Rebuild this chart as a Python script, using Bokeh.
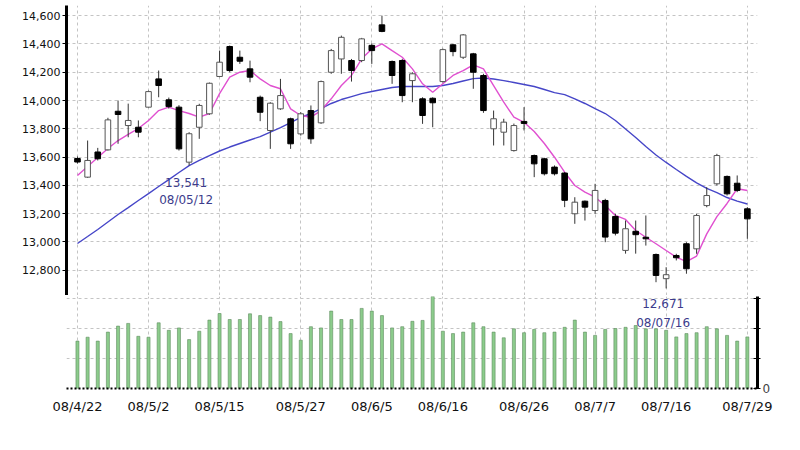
from bokeh.plotting import figure
from bokeh.layouts import column
from bokeh.models import (FixedTicker, NumeralTickFormatter, Range1d,
                          ColumnDataSource, Label)
from bokeh.embed import file_html
from bokeh.resources import INLINE

dates = ["08/04/22", "08/04/23", "08/04/24", "08/04/25", "08/04/28", "08/04/30",
         "08/05/01", "08/05/02", "08/05/07", "08/05/08", "08/05/09", "08/05/12",
         "08/05/13", "08/05/14", "08/05/15", "08/05/16", "08/05/19", "08/05/20",
         "08/05/21", "08/05/22", "08/05/23", "08/05/26", "08/05/27", "08/05/28",
         "08/05/29", "08/05/30", "08/06/02", "08/06/03", "08/06/04", "08/06/05",
         "08/06/06", "08/06/09", "08/06/10", "08/06/11", "08/06/12", "08/06/13",
         "08/06/16", "08/06/17", "08/06/18", "08/06/19", "08/06/20", "08/06/23",
         "08/06/24", "08/06/25", "08/06/26", "08/06/27", "08/06/30", "08/07/01",
         "08/07/02", "08/07/03", "08/07/04", "08/07/07", "08/07/08", "08/07/09",
         "08/07/10", "08/07/11", "08/07/14", "08/07/15", "08/07/16", "08/07/17",
         "08/07/18", "08/07/22", "08/07/23", "08/07/24", "08/07/25", "08/07/28",
         "08/07/29"]

open_ = [13590, 13458, 13636, 13651, 13924, 13823, 13811, 13953, 14153, 14005,
         13953, 13564, 13811, 13906, 14170, 14382, 14306, 14224, 14023, 13788,
         13941, 13871, 13764, 13929, 13842, 14200, 14294, 14283, 14283, 14390,
         14535, 14276, 14283, 14141, 14012, 14016, 14134, 14394, 14306, 14330,
         14177, 13800, 13776, 13646, 13852, 13611, 13588, 13529, 13487, 13199,
         13288, 13222, 13293, 13180, 12940, 13075, 13033, 12911, 12740, 12904,
         12987, 12951, 13257, 13411, 13463, 13415, 13234]
high = [13604, 13717, 13665, 13878, 14000, 13978, 13859, 14070, 14212, 14021,
        13967, 13776, 13977, 14127, 14353, 14389, 14353, 14282, 14035, 13988,
        14153, 13879, 13918, 13965, 14141, 14365, 14459, 14294, 14443, 14404,
        14600, 14283, 14294, 14200, 14023, 14023, 14367, 14400, 14470, 14337,
        14189, 13929, 13871, 13837, 13953, 13618, 13595, 13541, 13494, 13316,
        13293, 13411, 13305, 13199, 13151, 13151, 13187, 12918, 12821, 12916,
        12998, 13199, 13387, 13623, 13470, 13470, 13246]
low = [13554, 13452, 13576, 13646, 13694, 13740, 13740, 13950, 14023, 13943,
       13646, 13541, 13729, 13899, 14165, 14200, 14259, 14129, 13854, 13658,
       13934, 13658, 13752, 13694, 13835, 14189, 14189, 14134, 14271, 14259,
       14483, 14118, 13988, 13988, 13835, 13811, 14127, 14313, 14294, 14083,
       13913, 13682, 13682, 13639, 13788, 13458, 13470, 13470, 13246, 13128,
       13151, 13199, 12998, 13046, 12917, 12917, 12974, 12715, 12671, 12869,
       12775, 12916, 13245, 13399, 13328, 13352, 13022]
close = [13565, 13576, 13588, 13863, 13901, 13859, 13776, 14063, 14106, 13957,
         13658, 13765, 13965, 14122, 14271, 14212, 14278, 14165, 13917, 13981,
         14035, 13694, 13906, 13729, 14134, 14353, 14447, 14212, 14436, 14353,
         14489, 14177, 14035, 14189, 13894, 13984, 14360, 14346, 14464, 14200,
         13929, 13871, 13847, 13823, 13838, 13552, 13482, 13482, 13294, 13281,
         13246, 13364, 13034, 13062, 13093, 13051, 13022, 12763, 12768, 12888,
         12810, 13187, 13328, 13611, 13340, 13364, 13163]
# volume, billions of shares
volume = [1.58, 1.71, 1.58, 1.88, 2.08, 2.17, 1.74, 1.71, 2.19, 1.94,
          2.02, 1.63, 1.91, 2.28, 2.50, 2.30, 2.30, 2.49, 2.43, 2.38,
          2.23, 1.83, 1.61, 2.06, 2.02, 2.58, 2.30, 2.30, 2.67, 2.58,
          2.43, 2.02, 2.06, 2.24, 2.27, 3.17, 1.91, 1.83, 1.88, 2.19,
          2.06, 1.88, 1.69, 1.99, 1.86, 1.97, 1.86, 1.88, 2.04, 2.28,
          1.88, 1.77, 1.97, 2.00, 2.04, 2.10, 1.99, 1.99, 1.94, 1.72,
          1.83, 1.86, 2.06, 1.99, 1.77, 1.58, 1.72]
ma_short = [13470, 13533, 13597, 13661, 13717, 13760, 13802, 13859, 13929, 13953,
            13929, 13908, 13882, 13908, 14049, 14165, 14200, 14212, 14153, 14106,
            14083, 13941, 13894, 13882, 13929, 14012, 14106, 14177, 14295, 14365,
            14401, 14353, 14306, 14224, 14118, 14059, 14118, 14177, 14212, 14252,
            14224, 14106, 13988, 13882, 13846, 13781, 13696, 13599, 13493, 13399,
            13352, 13316, 13258, 13187, 13159, 13081, 13033, 12987, 12939, 12892,
            12860, 12900, 13057, 13179, 13272, 13376, 13364]
ma_long = [12989, 13038, 13088, 13141, 13194, 13243, 13293, 13342, 13392, 13441,
           13491, 13540, 13576, 13611, 13643, 13671, 13696, 13721, 13745, 13777,
           13809, 13844, 13880, 13908, 13943, 13979, 14007, 14028, 14049, 14064,
           14078, 14092, 14099, 14099, 14099, 14099, 14106, 14120, 14138, 14155,
           14159, 14152, 14141, 14127, 14113, 14099, 14078, 14056, 14042, 14011,
           13979, 13943, 13908, 13859, 13798, 13738, 13675, 13615, 13562, 13512,
           13463, 13417, 13378, 13349, 13314, 13289, 13268]

tick_dates = ["08/04/22", "08/05/02", "08/05/15", "08/05/27", "08/06/05",
              "08/06/16", "08/06/26", "08/07/07", "08/07/16", "08/07/29"]
tick_labels = ["08/4/22", "08/5/2", "08/5/15", "08/5/27", "08/6/5",
               "08/6/16", "08/6/26", "08/7/7", "08/7/16", "08/7/29"]
price_ticks = [12800, 13000, 13200, 13400, 13600, 13800, 14000, 14200, 14400, 14600]
volume_ticks = [0, 1, 2, 3]
annotated_dates = ["08/05/12", "08/07/16"]

FONT = "DejaVu Sans"
idx = list(range(len(dates)))
tick_idx = [dates.index(d) for d in tick_dates]

up = [i for i in idx if close[i] >= open_[i]]
dn = [i for i in idx if close[i] < open_[i]]
src_up = ColumnDataSource(dict(x=up, top=[close[i] for i in up], bottom=[open_[i] for i in up]))
src_dn = ColumnDataSource(dict(x=dn, top=[open_[i] for i in dn], bottom=[close[i] for i in dn]))
src = ColumnDataSource(dict(x=idx, high=high, low=low, vol=volume,
                            ma_s=ma_short, ma_l=ma_long))

W = 790
LEFT = 66
RIGHT = W - 757
xr = Range1d(-1.08, 67.0)

p = figure(width=W, height=295, x_range=xr, y_range=Range1d(12621, 14672),
           x_axis_location=None, output_backend="svg", toolbar_location=None,
           min_border_left=LEFT, min_border_right=RIGHT, min_border_top=5,
           min_border_bottom=0)
p.outline_line_color = None
p.background_fill_color = "white"
p.yaxis.ticker = FixedTicker(ticks=price_ticks)
p.yaxis.formatter = NumeralTickFormatter(format="0,0")
p.yaxis.axis_line_width = 3
p.yaxis.axis_line_color = "black"
p.yaxis.major_tick_out = 4
p.yaxis.major_tick_in = 0
p.yaxis.minor_tick_line_color = None
p.yaxis.major_label_standoff = 2
p.yaxis.major_label_text_font = FONT
p.yaxis.major_label_text_font_size = "11px"
p.yaxis.major_label_text_color = "#111111"
p.ygrid.ticker = FixedTicker(ticks=price_ticks)
p.xgrid.ticker = FixedTicker(ticks=tick_idx)
for g in (p.xgrid, p.ygrid):
    g.grid_line_color = "#c4c4c4"
    g.grid_line_dash = "3 3"
    g.grid_line_width = 1

p.line("x", "ma_l", source=src, line_color="#4646c8", line_width=1.4)
p.line("x", "ma_s", source=src, line_color="#e050d0", line_width=1.4)
p.segment(x0="x", y0="low", x1="x", y1="high", source=src, line_color="#333333", line_width=1)
p.vbar(x="x", top="top", bottom="bottom", width=0.55, source=src_up,
       fill_color="white", line_color="#555555", line_width=1)
p.vbar(x="x", top="top", bottom="bottom", width=0.55, source=src_dn,
       fill_color="black", line_color="black", line_width=1)

v = figure(width=W, height=128, x_range=xr, y_range=Range1d(0, 3.067),
           y_axis_location="right", output_backend="svg", toolbar_location=None,
           min_border_left=LEFT, min_border_right=RIGHT, min_border_top=1,
           min_border_bottom=35)
v.outline_line_color = None
v.vbar(x="x", top="vol", bottom=0, width=0.3, source=src,
       fill_color="#8ccc8c", line_color="#5e8c5e", line_width=0.6)
v.xaxis.ticker = FixedTicker(ticks=tick_idx)
v.xaxis.major_label_overrides = {i: t for i, t in zip(tick_idx, tick_labels)}
v.xaxis.axis_line_color = "black"
v.xaxis.axis_line_width = 2
v.xaxis.axis_line_dash = "2 2"
v.xaxis.major_tick_in = 0
v.xaxis.major_tick_out = 0
v.xaxis.minor_tick_line_color = None
v.xaxis.major_label_standoff = 10
v.xaxis.major_label_text_font = FONT
v.xaxis.major_label_text_font_size = "13px"
v.xaxis.major_label_text_color = "#111111"
v.yaxis.ticker = FixedTicker(ticks=volume_ticks)
v.yaxis.major_label_overrides = {t: ("0" if t == 0 else "") for t in volume_ticks}
v.yaxis.axis_line_width = 3
v.yaxis.axis_line_color = "black"
v.yaxis.major_tick_in = 4
v.yaxis.major_tick_out = 3
v.yaxis.minor_tick_line_color = None
v.yaxis.major_label_standoff = 2
v.yaxis.major_label_text_font = FONT
v.yaxis.major_label_text_font_size = "12px"
v.ygrid.ticker = FixedTicker(ticks=volume_ticks[1:])
v.xgrid.ticker = FixedTicker(ticks=tick_idx)
for g in (v.xgrid, v.ygrid):
    g.grid_line_color = "#c4c4c4"
    g.grid_line_dash = "3 3"
    g.grid_line_width = 1

LBL = "#3c3c8c"
# first annotation (in price panel)
d0 = dates.index(annotated_dates[0])
for text, off in ((f"{low[d0]:,}", -17), (annotated_dates[0], -35)):
    p.add_layout(Label(x=d0, y=low[d0], x_offset=-3, y_offset=off, text=text,
                       text_align="center", text_baseline="middle",
                       text_color=LBL, text_font=FONT, text_font_size="12px"))
# second annotation (falls below price panel, drawn on volume panel top)
d1 = dates.index(annotated_dates[1])
for text, off in ((f"{low[d1]:,}", -7), (annotated_dates[1], -26)):
    v.add_layout(Label(x=d1, y=v.y_range.end, x_offset=-3, y_offset=off, text=text,
                       text_align="center", text_baseline="middle",
                       text_color=LBL, text_font=FONT, text_font_size="12px"))

layout = column(p, v, spacing=0)
open("out.html", "w").write(file_html(layout, INLINE))
